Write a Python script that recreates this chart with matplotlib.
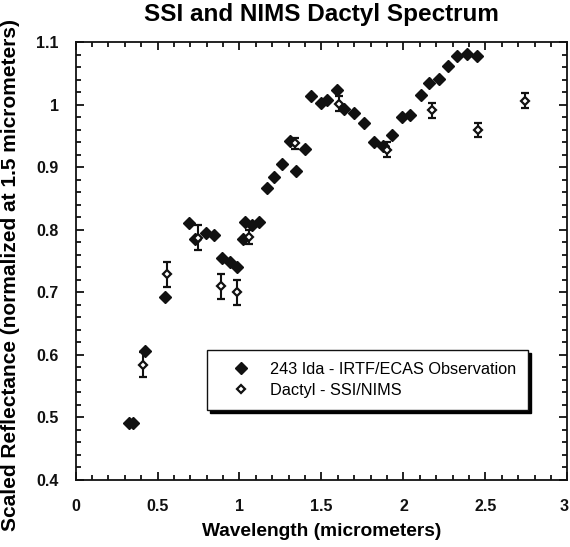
import matplotlib
matplotlib.use("Agg")
import matplotlib.pyplot as plt
from matplotlib.lines import Line2D
from matplotlib.ticker import MultipleLocator

plt.rcParams['font.family'] = ['Liberation Sans', 'DejaVu Sans']

# 243 Ida - IRTF/ECAS (filled diamonds)
ida_wl = [0.324, 0.350, 0.425, 0.547, 0.694, 0.730, 0.796, 0.845, 0.893, 0.940,
          0.982, 1.023, 1.035, 1.075, 1.120, 1.165, 1.213, 1.260, 1.306, 1.347,
          1.397, 1.438, 1.499, 1.533, 1.594, 1.640, 1.701, 1.758, 1.823, 1.877,
          1.930, 1.991, 2.039, 2.106, 2.157, 2.218, 2.274, 2.329, 2.390, 2.450]
ida_refl = [0.491, 0.491, 0.606, 0.692, 0.811, 0.785, 0.795, 0.791, 0.755, 0.748,
            0.741, 0.785, 0.812, 0.807, 0.812, 0.866, 0.884, 0.905, 0.942, 0.894,
            0.929, 1.014, 1.003, 1.008, 1.023, 0.993, 0.987, 0.970, 0.940, 0.934,
            0.951, 0.980, 0.983, 1.015, 1.035, 1.041, 1.062, 1.077, 1.081, 1.077]

# Dactyl - SSI/NIMS (open diamonds with error bars)
dac_wl = [0.411, 0.557, 0.745, 0.885, 0.982, 1.057, 1.337, 1.606, 1.897, 2.173, 2.454, 2.740]
dac_refl = [0.584, 0.729, 0.787, 0.710, 0.700, 0.788, 0.938, 1.001, 0.928, 0.991, 0.959, 1.006]
dac_err = [0.020, 0.020, 0.020, 0.020, 0.020, 0.011, 0.009, 0.012, 0.012, 0.012, 0.011, 0.012]

XMAX = 3

ink = '#111111'

fig = plt.figure(figsize=(5.70, 5.47), dpi=100)
ax = fig.add_axes([0.1325, 0.1225, 0.863, 0.8007])

ax.plot(ida_wl, ida_refl, linestyle='none', marker='D', markersize=6.0, color=ink)
ax.errorbar(dac_wl, dac_refl, yerr=dac_err, fmt='D', markersize=4.4,
            markerfacecolor='white', markeredgecolor=ink, markeredgewidth=1.6,
            ecolor=ink, elinewidth=1.5, capsize=2.8, capthick=1.5)

ax.set_xlim(0, XMAX)
ax.set_ylim(0.4, 1.1)
ax.xaxis.set_major_locator(MultipleLocator(0.5))
ax.xaxis.set_minor_locator(MultipleLocator(0.1))
ax.yaxis.set_major_locator(MultipleLocator(0.1))
ax.yaxis.set_minor_locator(MultipleLocator(0.02))
# the last x label sits at the figure edge, so it is drawn separately below
ax.xaxis.set_major_formatter(plt.FuncFormatter(lambda v, p: '' if v >= XMAX else f'{v:g}'))
ax.yaxis.set_major_formatter(plt.FuncFormatter(lambda v, p: f'{v:g}'))

ax.tick_params(which='both', direction='in', top=True, right=True, width=1.3, colors=ink)
ax.tick_params(which='major', length=6, labelsize=11.5)
ax.tick_params(which='minor', length=3.5)
ax.tick_params(axis='x', pad=14)
ax.tick_params(axis='y', pad=12)
for sp in ax.spines.values():
    sp.set_linewidth(1.3)
    sp.set_color(ink)

ax.annotate(f'{XMAX:g}', xy=(XMAX, 0.4), xycoords='data', xytext=(0.5, -14),
            textcoords='offset points', ha='right', va='top', fontsize=11.5,
            fontweight='bold', color=ink, annotation_clip=False)

ax.set_xlabel('Wavelength (micrometers)', fontsize=13.8, fontweight='bold', labelpad=6)
ax.set_ylabel('Scaled Reflectance (normalized at 1.5 micrometers)', fontsize=15,
              fontweight='bold')
ax.yaxis.set_label_coords(-0.112, 0.467)
fig.text(0.564, 0.973, 'SSI and NIMS Dactyl Spectrum', fontsize=17.5,
         fontweight='bold', ha='center', va='center')

handles = [
    Line2D([], [], linestyle='none', marker='D', markersize=6.0, color=ink),
    Line2D([], [], linestyle='none', marker='D', markersize=4.4, markerfacecolor='white',
           markeredgecolor=ink, markeredgewidth=1.6),
]
labels = ['243 Ida - IRTF/ECAS Observation', 'Dactyl - SSI/NIMS']
leg = ax.legend(handles, labels, loc='upper left', bbox_to_anchor=(0.268, 0.297),
                borderaxespad=0, fontsize=11.7, frameon=True, fancybox=False,
                edgecolor=ink, framealpha=1, borderpad=0.75, handlelength=2.6,
                handletextpad=0.5, labelspacing=0.35,
                shadow={'color': 'black', 'alpha': 1.0, 'ox': 2.2, 'oy': -2.2})
leg.get_frame().set_linewidth(1.0)

fig.canvas.draw()
for lbl in ax.get_xticklabels() + ax.get_yticklabels():
    lbl.set_fontweight('bold')

fig.savefig('out.png', dpi=100)
